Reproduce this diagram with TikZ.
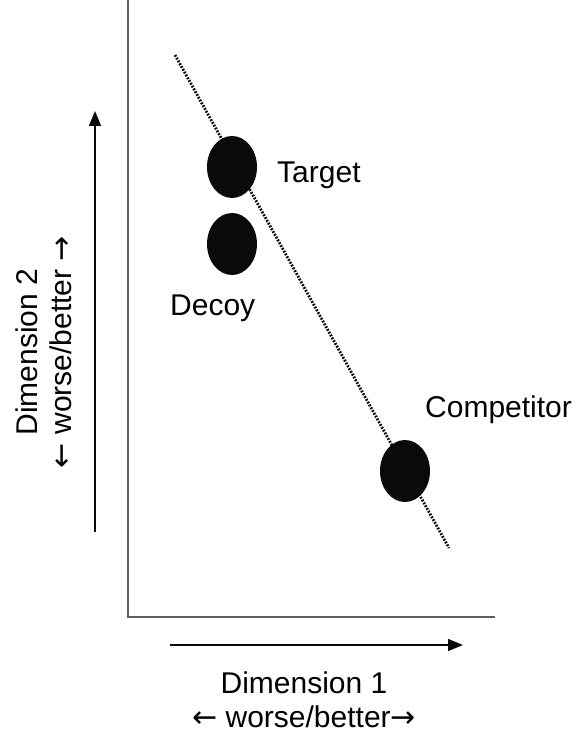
\documentclass[tikz,border=0pt]{standalone}
\usepackage{fontspec}
\setmainfont{Liberation Sans}
\newfontfamily\arrowfont{DejaVu Sans}
\usepackage{tikz}
\usetikzlibrary{shapes.geometric, arrows.meta, positioning}
\definecolor{mydark}{RGB}{10,10,10}
\definecolor{myaxis}{RGB}{95,95,95}
\newcommand{\larr}{{\arrowfont ←}}
\newcommand{\rarr}{{\arrowfont →}}
\tikzset{
  option/.style={ellipse, fill=mydark, minimum width=50pt,
    minimum height=62pt, inner sep=0pt},
  optlabel/.style={font=\fontsize{30}{34}\selectfont, inner sep=0pt},
  axis/.style={line width=2pt, color=myaxis},
  dirarrow/.style={-{Triangle[length=15pt, width=12pt]}, line width=1.5pt, color=mydark},
  trend/.style={line width=2.8pt, color=mydark, dash pattern=on 1.8pt off 1.4pt}
}

\begin{document}
\begin{tikzpicture}[x=1pt, y=-1pt]
  \useasboundingbox (0,0) rectangle (576,735);
  \coordinate (ytop) at (128,0);
  \coordinate (origin) at (128,617);
  \coordinate (xend) at (495,617);
  \draw[axis] (ytop) -- (origin) -- (xend);
  \coordinate (d1from) at (170,645);
  \coordinate (d1to) at (463,645);
  \coordinate (d2from) at (95,532);
  \coordinate (d2to) at (95,111);
  \draw[dirarrow] (d1from) -- (d1to);
  \draw[dirarrow] (d2from) -- (d2to);
  \coordinate (ltop) at (175,55);
  \coordinate (lbot) at (449,548);
  \draw[trend] (ltop) -- (lbot);
  \node[option] (target) at (232,167) {};
  \node[option] (decoy) at (232,244) {};
  \node[option] (competitor) at (405,471) {};
  \node[optlabel, anchor=base west] (targetlbl) at (277,183) {Target};
  \node[optlabel, anchor=base west] (decoylbl) at (170,315) {Decoy};
  \node[optlabel, anchor=base west] (complbl) at (425,417) {Competitor};
  \node[optlabel, align=center, anchor=north] (dim1) at (304,672)
    {Dimension 1\\\larr\ worse/better\rarr};
  \node[optlabel, align=center, rotate=90] (dim2) at (44,352)
    {Dimension 2\\\larr\ worse/better \rarr};
\end{tikzpicture}
\end{document}
